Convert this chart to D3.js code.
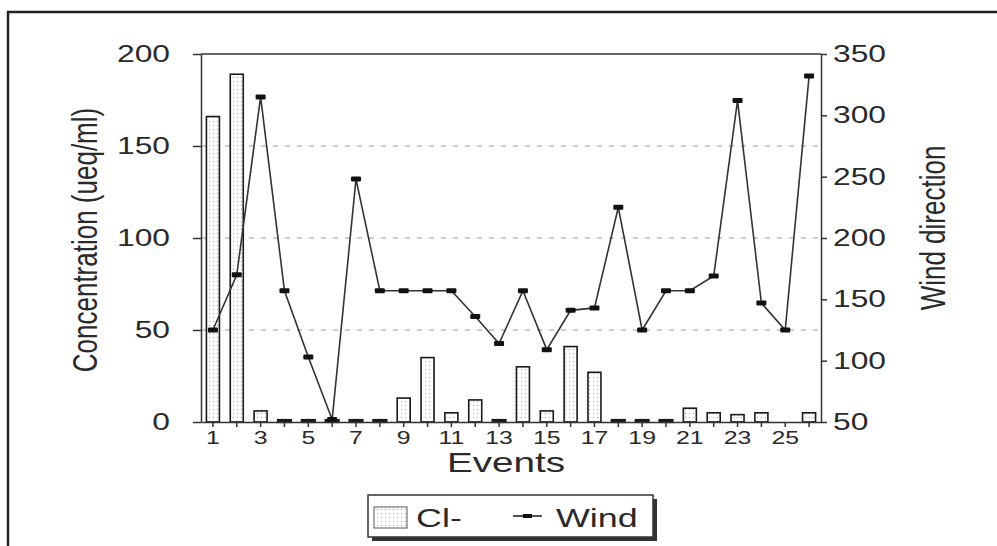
<!DOCTYPE html>
<html>
<head>
<meta charset="utf-8">
<script src="https://cdn.jsdelivr.net/npm/d3@7"></script>
<style>
  body { margin: 0; background: #fff; }
  svg text { font-family: "Liberation Sans", Arial, sans-serif; fill: #2a2a2a; }
</style>
</head>
<body>
<script>
var events = [1, 2, 3, 4, 5, 6, 7, 8, 9, 10, 11, 12, 13, 14, 15, 16, 17, 18, 19, 20, 21, 22, 23, 24, 25, 26];
var chloride = [166, 189, 6, 0, 0, 0, 0, 0, 13, 35, 5, 12, 0, 30, 6, 41, 27, 0, 0, 0, 7.5, 5, 4, 5, null, 5];
var wind = [125, 170, 315, 157, 103, 52, 248, 157, 157, 157, 157, 136, 114, 157, 109, 141, 143, 225, 125, 157, 157, 169, 312, 147, 125, 332];
var leftTicks = [0, 50, 100, 150, 200];
var rightTicks = [50, 100, 150, 200, 250, 300, 350];
var gridTicks = [50, 100, 150];

var w = 997, h = 546;
var SX = 1.38; // the source picture is stretched sideways
var pLeft = 201, pRight = 821, pTop = 54, pBottom = 422;

var svg = d3.select('body').append('svg')
  .attr('width', w)
  .attr('height', h);

// dotted fill used in the bars
var defs = svg.append('defs');
var pat = defs.append('pattern')
  .attr('id', 'dots')
  .attr('width', 4)
  .attr('height', 4)
  .attr('patternUnits', 'userSpaceOnUse');
pat.append('rect').attr('width', 4).attr('height', 4).attr('fill', '#fff');
pat.append('rect').attr('x', 1).attr('y', 1).attr('width', 1).attr('height', 1).attr('fill', '#aaa');

// outer frame
svg.append('rect')
  .attr('x', 8).attr('y', 12)
  .attr('width', 1100).attr('height', 700)
  .attr('fill', 'none')
  .attr('stroke', '#222')
  .attr('stroke-width', 2.5);

var x = d3.scaleBand()
  .domain(events)
  .range([pLeft, pRight]);

var yL = d3.scaleLinear().domain([0, 200]).range([pBottom, pTop]);
var yR = d3.scaleLinear().domain([50, 350]).range([pBottom, pTop]);

function stretch(sel) {
  sel.selectAll('text')
    .attr('x', function () { return (+this.getAttribute('x') || 0) / SX; })
    .attr('transform', 'scale(' + SX + ',1)');
}

// grid
svg.append('g').selectAll('line')
  .data(gridTicks)
  .enter().append('line')
  .attr('x1', pLeft).attr('x2', pRight)
  .attr('y1', function (d) { return yL(d); })
  .attr('y2', function (d) { return yL(d); })
  .attr('stroke', '#9a9a9a')
  .attr('stroke-dasharray', '5,7');

// bars
var barW = 13;
svg.append('g').selectAll('rect')
  .data(events.filter(function (d, i) { return chloride[i] != null; }))
  .enter().append('rect')
  .attr('x', function (d) { return x(d) + x.bandwidth() / 2 - barW / 2; })
  .attr('y', function (d) { return Math.min(yL(chloride[d - 1]), pBottom - 2); })
  .attr('width', barW)
  .attr('height', function (d) { return Math.max(pBottom - yL(chloride[d - 1]), 2); })
  .attr('fill', 'url(#dots)')
  .attr('stroke', '#1a1a1a')
  .attr('stroke-width', function (d) { return chloride[d - 1] === 0 ? 2.2 : 1.6; });

// wind line
var line = d3.line()
  .x(function (d, i) { return x(events[i]) + x.bandwidth() / 2; })
  .y(function (d) { return yR(d); });

svg.append('path')
  .datum(wind)
  .attr('d', line)
  .attr('fill', 'none')
  .attr('stroke', '#333')
  .attr('stroke-width', 1.6);

svg.append('g').selectAll('rect')
  .data(wind)
  .enter().append('rect')
  .attr('x', function (d, i) { return x(events[i]) + x.bandwidth() / 2 - 5; })
  .attr('y', function (d) { return yR(d) - 2.5; })
  .attr('width', 10)
  .attr('height', 5)
  .attr('rx', 1)
  .attr('fill', '#111');

// plot box top
svg.append('line')
  .attr('x1', pLeft).attr('x2', pRight)
  .attr('y1', pTop).attr('y2', pTop)
  .attr('stroke', '#333').attr('stroke-width', 1.5);

// axes
var gL = svg.append('g')
  .attr('transform', 'translate(' + pLeft + ',0)')
  .call(d3.axisLeft(yL).tickValues(leftTicks).tickSize(8).tickSizeOuter(0).tickPadding(23));
var gR = svg.append('g')
  .attr('transform', 'translate(' + pRight + ',0)')
  .call(d3.axisRight(yR).tickValues(rightTicks).tickSize(6).tickSizeOuter(0).tickPadding(6));
var gB = svg.append('g')
  .attr('transform', 'translate(0,' + pBottom + ')')
  .call(d3.axisBottom(x).tickSize(5).tickSizeOuter(0).tickPadding(4)
    .tickFormat(function (d) { return d % 2 === 1 ? d : ''; }));

[gL, gR, gB].forEach(function (g) {
  g.selectAll('path, line').attr('stroke', '#333').attr('stroke-width', 1.5);
  g.selectAll('text').attr('fill', '#2a2a2a').attr('font-family', '"Liberation Sans", Arial, sans-serif');
  stretch(g);
});
gL.selectAll('text').attr('font-size', 23);
gR.selectAll('text').attr('font-size', 23);
gB.selectAll('text').attr('font-size', 18);

// titles
svg.append('text')
  .attr('transform', 'translate(506,472) scale(' + SX + ',1)')
  .attr('text-anchor', 'middle')
  .attr('font-size', 28)
  .text('Events');

svg.append('text')
  .attr('transform', 'translate(97,240) scale(' + SX + ',1) rotate(-90)')
  .attr('text-anchor', 'middle')
  .attr('font-size', 26)
  .text('Concentration (ueq/ml)');

svg.append('text')
  .attr('transform', 'translate(945,228) scale(' + SX + ',1) rotate(-90)')
  .attr('text-anchor', 'middle')
  .attr('font-size', 26)
  .text('Wind direction');

// legend
var lg = svg.append('g');
lg.append('rect')
  .attr('x', 372).attr('y', 499)
  .attr('width', 285).attr('height', 42)
  .attr('fill', '#333');
lg.append('rect')
  .attr('x', 368).attr('y', 495)
  .attr('width', 285).attr('height', 42)
  .attr('fill', '#fff')
  .attr('stroke', '#333').attr('stroke-width', 1.5);
lg.append('rect')
  .attr('x', 374).attr('y', 507)
  .attr('width', 33).attr('height', 21)
  .attr('fill', 'url(#dots)')
  .attr('stroke', '#555').attr('stroke-width', 1);
lg.append('text')
  .attr('transform', 'translate(416,527) scale(' + SX + ',1)')
  .attr('font-size', 26)
  .text('Cl-');
lg.append('line')
  .attr('x1', 513).attr('x2', 542)
  .attr('y1', 516).attr('y2', 516)
  .attr('stroke', '#222').attr('stroke-width', 1.6);
lg.append('rect')
  .attr('x', 523).attr('y', 514)
  .attr('width', 9).attr('height', 4)
  .attr('fill', '#111');
lg.append('text')
  .attr('transform', 'translate(556,527) scale(' + SX + ',1)')
  .attr('font-size', 26)
  .text('Wind');
</script>
</body>
</html>
